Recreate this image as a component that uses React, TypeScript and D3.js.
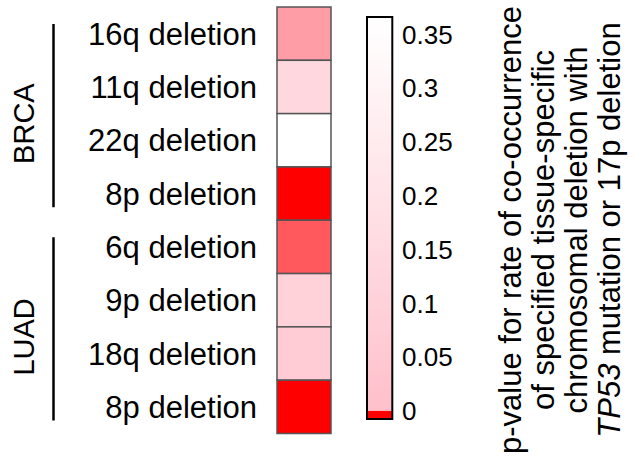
import * as d3 from "d3";
import React from "react";

// data
const rowLabels = [
  "16q deletion",
  "11q deletion",
  "22q deletion",
  "8p deletion",
  "6q deletion",
  "9p deletion",
  "18q deletion",
  "8p deletion",
];
const rowGroups = ["BRCA", "BRCA", "BRCA", "BRCA", "LUAD", "LUAD", "LUAD", "LUAD"];
const pValues = [0.0041, 0.142, 0.37, 0.00001, 0.0023, 0.108, 0.068, 0.00001];
const groups = ["BRCA", "LUAD"];
const tickValues = [0, 0.05, 0.1, 0.15, 0.2, 0.25, 0.3, 0.35];
const titleLines = [
  "p-value for rate of co-occurrence",
  "of specified tissue-specific",
  "chromosomal deletion with",
];
const titleItalic = "TP53";
const titleTail = " mutation or 17p deletion";

const W = 637;
const H = 465;
const FONT = "'Liberation Sans', Arial, Helvetica, sans-serif";

const color = d3
  .scaleLinear<string>()
  .domain([0, 0.005, 0.366])
  .range(["#ff0000", "#ffc0cb", "#ffffff"])
  .clamp(true);

export default function App() {
  const y = d3
    .scaleBand<number>()
    .domain(d3.range(rowLabels.length))
    .range([7, 433.5]);
  const cellX = 277;
  const cellW = 54;

  // colorbar
  const cbX = 367;
  const cbW = 25.3;
  const cbY = d3.scaleLinear().domain([-0.0075, 0.366]).range([419, 17]);
  const gradStops = d3.range(0, 11).map((i) => {
    const v = 0.005 + (0.366 - 0.005) * (i / 10);
    return { offset: i / 10, c: color(v) };
  });

  const groupRows = groups.map((g) => {
    const idx = rowGroups.map((r, i) => (r === g ? i : -1)).filter((i) => i >= 0);
    return { g, first: d3.min(idx)!, last: d3.max(idx)! };
  });

  return (
    <svg width={W} height={H} style={{ position: "absolute", left: 0, top: 0 }} fontFamily={FONT}>
      <defs>
        <linearGradient id="cb" x1="0" y1="1" x2="0" y2="0">
          {gradStops.map((s, i) => (
            <stop key={i} offset={s.offset} stopColor={s.c} />
          ))}
        </linearGradient>
      </defs>
      <rect width={W} height={H} fill="#fff" />

      {/* heatmap cells */}
      {pValues.map((p, i) => (
        <rect
          key={i}
          x={cellX}
          y={y(i)}
          width={cellW}
          height={y.bandwidth()}
          fill={color(p)}
          stroke="#555"
          strokeWidth={1.5}
        />
      ))}

      {/* row labels */}
      {rowLabels.map((l, i) => (
        <text
          key={i}
          x={257}
          y={y(i)! + y.bandwidth() / 2}
          textAnchor="end"
          dy="0.36em"
          fontSize={31}
          fill="#000"
        >
          {l}
        </text>
      ))}

      {/* group brackets */}
      {groupRows.map(({ g, first, last }) => {
        const y0 = y(first)! + 17;
        const y1 = y(last)! + y.bandwidth() - 13;
        return (
          <g key={g}>
            <line x1={53.5} x2={53.5} y1={y0} y2={y1} stroke="#000" strokeWidth={2.5} />
            <text
              transform={`translate(34,${(y0 + y1) / 2 + 8}) rotate(-90)`}
              textAnchor="middle"
              fontSize={29}
            >
              {g}
            </text>
          </g>
        );
      })}

      {/* colorbar */}
      <rect x={cbX} y={cbY(0.366)} width={cbW} height={cbY(0) - cbY(0.366)} fill="url(#cb)" />
      <rect x={cbX} y={cbY(0)} width={cbW} height={cbY(-0.0075) - cbY(0)} fill={color(0)} />
      <rect
        x={cbX}
        y={cbY(0.366)}
        width={cbW}
        height={cbY(-0.0075) - cbY(0.366)}
        fill="none"
        stroke="#000"
        strokeWidth={2}
      />
      {tickValues.map((t) => (
        <text key={t} x={402} y={cbY(t)} dy="0.36em" fontSize={26}>
          {d3.format("~g")(t)}
        </text>
      ))}

      {/* colorbar title */}
      {titleLines.map((l, i) => (
        <text
          key={i}
          transform={`translate(${521 + i * 33},230) rotate(-90)`}
          textAnchor="middle"
          fontSize={31}
        >
          {l}
        </text>
      ))}
      <text
        transform={`translate(${521 + 3 * 33},230) rotate(-90)`}
        textAnchor="middle"
        fontSize={31}
      >
        <tspan fontStyle="italic">{titleItalic}</tspan>
        {titleTail}
      </text>
    </svg>
  );
}
